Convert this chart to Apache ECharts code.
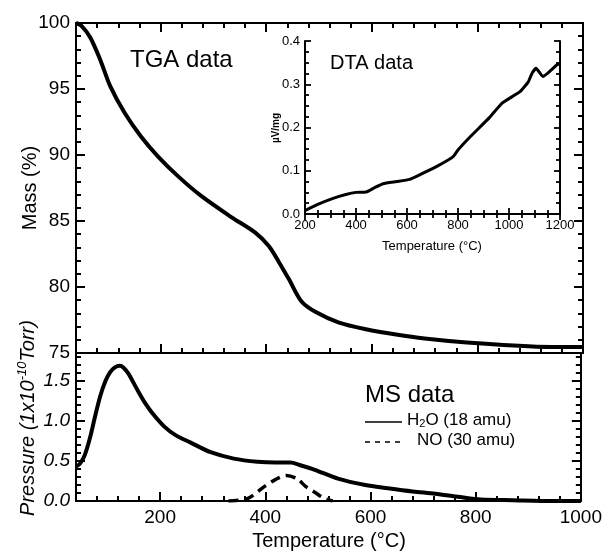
<!DOCTYPE html>
<html>
<head>
<meta charset="utf-8">
<script src="https://cdn.jsdelivr.net/npm/echarts@6.0.0/dist/echarts.min.js"></script>
<style>
  html, body { margin: 0; padding: 0; background: #fff; }
  #chart { width: 605px; height: 554px; }
</style>
</head>
<body>
<div id="chart"></div>
<script>
// TGA curve: temperature (°C) vs mass (%)
var tgaT    = [40, 50, 67, 86, 105, 132, 163, 195, 233, 277, 334, 380, 405, 424, 443, 467, 494, 538, 589, 646, 700, 780, 905, 1000];
var tgaMass = [100, 99.8, 98.9, 97.2, 95.2, 93.2, 91.4, 89.9, 88.4, 86.9, 85.3, 84.1, 83.1, 81.9, 80.6, 78.9, 78.1, 77.3, 76.8, 76.4, 76.1, 75.8, 75.5, 75.45];

// MS, H2O (18 amu)
var h2oT = [40, 48, 57, 67, 76, 86, 96, 105, 114, 123, 130, 140, 150, 160, 170, 185, 208, 230, 258, 296, 340, 385, 420, 448, 465, 494, 538, 590, 633, 680, 723, 770, 810, 870, 950, 1000];
var h2oP = [0.43, 0.47, 0.58, 0.80, 1.05, 1.31, 1.50, 1.61, 1.67, 1.69, 1.67, 1.59, 1.47, 1.35, 1.24, 1.10, 0.93, 0.82, 0.73, 0.61, 0.53, 0.49, 0.48, 0.48, 0.45, 0.39, 0.28, 0.20, 0.16, 0.12, 0.09, 0.05, 0.02, 0.01, 0.0, 0.0];

// MS, NO (30 amu)
var noT = [330, 366, 398, 420, 440, 460, 477, 494, 510, 528];
var noP = [0, 0.03, 0.18, 0.27, 0.32, 0.28, 0.18, 0.11, 0.04, 0];

// DTA inset
var dtaT = [200, 250, 310, 360, 400, 440, 470, 506, 560, 610, 651, 717, 780, 800, 847, 925, 972, 1043, 1075, 1090, 1106, 1133, 1160, 1188, 1200];
var dtaV = [0.008, 0.022, 0.036, 0.045, 0.05, 0.051, 0.06, 0.07, 0.075, 0.08, 0.091, 0.110, 0.132, 0.148, 0.178, 0.224, 0.256, 0.283, 0.305, 0.325, 0.337, 0.318, 0.330, 0.345, 0.348];

var FONT = '"Liberation Sans", Arial, sans-serif';

function pairs(xs, ys) {
    return xs.map(function (x, i) { return [x, ys[i]]; });
}

function axLine() { return { show: true, lineStyle: { color: '#000', width: 2 } }; }
function tickOpt(len, w) { return { show: true, inside: true, length: len, lineStyle: { color: '#000', width: w } }; }
function minorOpt(n, len, w) { return { show: true, splitNumber: n, length: len, lineStyle: { color: '#000', width: w } }; }

// main temperature axis: major = auto ticks every 200 (long), minor = every 40 (short)
function mainX(grid, pos, isMinor, label) {
    var a = {
        type: 'value', gridIndex: grid, position: pos, min: 40, max: 1000,
        axisLine: axLine(),
        axisTick: isMinor ? tickOpt(5, 2) : tickOpt(9, 2),
        axisLabel: { show: false },
        splitLine: { show: false }
    };
    if (isMinor) a.interval = 40;
    if (label) a.axisLabel = label;
    return a;
}

function mainY(grid, pos, min, max, label) {
    return {
        type: 'value', gridIndex: grid, position: pos, min: min, max: max,
        interval: grid === 0 ? 5 : 0.5,
        axisLine: axLine(), axisTick: tickOpt(9, 2), minorTick: minorOpt(5, 5, 2),
        axisLabel: label || { show: false },
        splitLine: { show: false }
    };
}

function insetAxis(pos, min, max, interval, label) {
    return {
        type: 'value', gridIndex: 2, position: pos, min: min, max: max, interval: interval,
        axisLine: axLine(), axisTick: tickOpt(6, 1.8), minorTick: minorOpt(4, 4, 1.8),
        axisLabel: label || { show: false },
        splitLine: { show: false }
    };
}

var chart = echarts.init(document.getElementById('chart'));

chart.setOption({
    animation: false,
    backgroundColor: '#fff',
    grid: [
        { left: 76, top: 23, width: 507, height: 330 },
        { left: 76, top: 353, width: 507, height: 148 },
        { left: 305, top: 41, width: 255, height: 173 }
    ],
    xAxis: [
        mainX(0, 'bottom', false),
        mainX(0, 'bottom', true),
        mainX(0, 'top', false),
        mainX(0, 'top', true),
        mainX(1, 'bottom', false, {
            show: true, showMinLabel: false, margin: 7, fontFamily: FONT, fontSize: 19, color: '#000',
            formatter: function (v) { return String(v); }
        }),
        mainX(1, 'bottom', true),
        insetAxis('bottom', 200, 1200, 200, {
            show: true, margin: 5, fontFamily: FONT, fontSize: 13, color: '#000',
            formatter: function (v) { return String(v); }
        }),
        insetAxis('top', 200, 1200, 200)
    ],
    yAxis: [
        mainY(0, 'left', 75, 100, { show: true, margin: 6, fontFamily: FONT, fontSize: 19, color: '#000' }),
        mainY(0, 'right', 75, 100),
        mainY(1, 'left', 0, 1.85, {
            show: true, margin: 6, fontFamily: FONT, fontSize: 19, fontStyle: 'italic', color: '#000', showMaxLabel: false,
            formatter: function (v) { return v.toFixed(1); }
        }),
        mainY(1, 'right', 0, 1.85),
        insetAxis('left', 0, 0.4, 0.1, {
            show: true, margin: 5, fontFamily: FONT, fontSize: 13, color: '#000',
            formatter: function (v) { return v.toFixed(1); }
        }),
        insetAxis('right', 0, 0.4, 0.1)
    ],
    series: [
        {
            name: 'TGA', type: 'line', xAxisIndex: 0, yAxisIndex: 0,
            data: pairs(tgaT, tgaMass), smooth: 0.3, symbol: 'none',
            lineStyle: { color: '#000', width: 4 }
        },
        {
            name: 'H2O (18 amu)', type: 'line', xAxisIndex: 4, yAxisIndex: 2,
            data: pairs(h2oT, h2oP), smooth: 0.3, symbol: 'none',
            lineStyle: { color: '#000', width: 4 }
        },
        {
            name: 'NO (30 amu)', type: 'line', xAxisIndex: 4, yAxisIndex: 2,
            data: pairs(noT, noP), smooth: 0.3, symbol: 'none',
            lineStyle: { color: '#000', width: 3.5, type: [10, 6] }
        },
        {
            name: 'DTA', type: 'line', xAxisIndex: 6, yAxisIndex: 4,
            data: pairs(dtaT, dtaV), smooth: 0.15, symbol: 'none',
            lineStyle: { color: '#000', width: 3 }
        }
    ],
    graphic: [
        // axis titles
        { type: 'text', x: 30, y: 188, rotation: Math.PI / 2,
          style: { text: 'Mass (%)', font: '20px ' + FONT, fill: '#000', align: 'center', verticalAlign: 'middle' } },
        { type: 'text', x: 28, y: 418, rotation: Math.PI / 2,
          style: { text: '{i|Pressure (1x10}{sup|-10}{i|Torr)}', align: 'center', verticalAlign: 'middle',
            rich: {
                i: { font: 'italic 20px ' + FONT, fill: '#000' },
                sup: { font: 'italic 13px ' + FONT, fill: '#000', padding: [0, 0, 12, 0] }
            } } },
        { type: 'text', x: 329, y: 541,
          style: { text: 'Temperature (°C)', font: '20px ' + FONT, fill: '#000', align: 'center', verticalAlign: 'middle' } },
        { type: 'text', x: 432, y: 246,
          style: { text: 'Temperature (°C)', font: '13px ' + FONT, fill: '#000', align: 'center', verticalAlign: 'middle' } },
        { type: 'text', x: 276, y: 128, rotation: Math.PI / 2,
          style: { text: 'µV/mg', font: 'bold 10px ' + FONT, fill: '#000', align: 'center', verticalAlign: 'middle' } },
        // panel captions and key
        { type: 'text', left: 130, top: 48, style: { text: 'TGA data', font: '24px ' + FONT, fill: '#000' } },
        { type: 'text', left: 330, top: 53, style: { text: 'DTA data', font: '20px ' + FONT, fill: '#000' } },
        { type: 'text', left: 365, top: 383, style: { text: 'MS data', font: '24px ' + FONT, fill: '#000' } },
        { type: 'line', shape: { x1: 365, y1: 422, x2: 402, y2: 422 }, style: { stroke: '#000', lineWidth: 1.5 } },
        { type: 'line', shape: { x1: 365, y1: 442, x2: 402, y2: 442 }, style: { stroke: '#000', lineWidth: 1.5, lineDash: [5, 5] } },
        {
            type: 'text', left: 407, top: 412,
            style: {
                text: 'H{sub|2}O (18 amu)', font: '17px ' + FONT, fill: '#000',
                rich: { sub: { font: '11px ' + FONT, fill: '#000', padding: [6, 0, 0, 0] } }
            }
        },
        { type: 'text', left: 417, top: 432, style: { text: 'NO (30 amu)', font: '17px ' + FONT, fill: '#000' } }
    ]
});
</script>
</body>
</html>
